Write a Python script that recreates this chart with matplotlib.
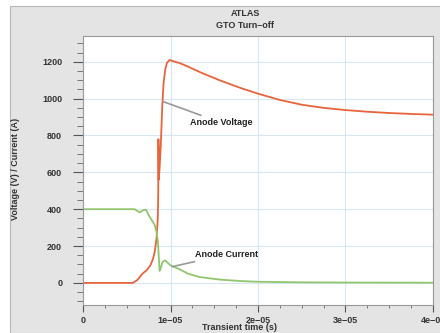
import matplotlib
matplotlib.use('Agg')
import matplotlib.pyplot as plt
from matplotlib.patches import Rectangle
from matplotlib.ticker import MultipleLocator

# time in microseconds
t_v = [0, 5.7, 6.2, 6.8, 7.3, 7.7, 8.0, 8.2, 8.4, 8.55, 8.6, 8.62, 8.66, 8.75,
       8.9, 9.05, 9.2, 9.4, 9.6, 9.9, 10.3, 11, 12, 13.5, 15.6, 18, 20, 22.5,
       25, 27.5, 30, 32.5, 35, 37.5, 40]
anode_voltage = [0, 0, 15, 50, 70, 95, 130, 170, 240, 350, 500, 780, 560, 620,
                 760, 950, 1080, 1160, 1195, 1210, 1203, 1194, 1174, 1141, 1100,
                 1058, 1027, 993, 967, 950, 938, 929, 922, 917, 913]

t_i = [0, 5.9, 6.2, 6.5, 6.9, 7.2, 7.6, 8.0, 8.2, 8.4, 8.55, 8.65, 8.75, 8.85,
       9.1, 9.4, 9.7, 10, 11, 12, 13.3, 15.6, 18, 20, 25, 30, 40]
anode_current = [400, 400, 390, 383, 395, 396, 360, 330, 313, 276, 230, 150, 65,
                 75, 115, 122, 108, 95, 75, 50, 32, 18, 10, 6, 3, 2, 1]

fig = plt.figure(figsize=(4.4, 3.33), dpi=100)
fig.patch.set_facecolor('white')
fig.patches.append(Rectangle((10 / 440, 0), 1, 1 - 6 / 333, transform=fig.transFigure,
                             facecolor='#e4e4e4', edgecolor='#b8b8b8', lw=0.8, zorder=-10))

ax = fig.add_axes([83 / 440, 28 / 333, 350 / 440, 269 / 333])
ax.set_facecolor('white')

ax.plot([t * 1e-6 for t in t_v], anode_voltage, color='#e8643a', lw=1.3)
ax.plot([t * 1e-6 for t in t_i], anode_current, color='#92c66e', lw=1.3)

ax.set_xlim(0, 4e-5)
ax.set_ylim(-120, 1340)
ax.set_xticks([0, 1e-5, 2e-5, 3e-5, 4e-5])
ax.set_xticklabels(['0', '1e\u221205', '2e\u221205', '3e\u221205', '4e\u221205'])
ax.set_yticks([0, 200, 400, 600, 800, 1000, 1200])
ax.xaxis.set_minor_locator(MultipleLocator(2.5e-6))
ax.yaxis.set_minor_locator(MultipleLocator(50))
ax.grid(True, which='major', color='#d6e7f3', lw=0.8)
ax.set_axisbelow(True)

for s in ax.spines.values():
    s.set_color('#999999')
    s.set_linewidth(0.8)
ax.tick_params(which='major', length=5, width=0.8, color='#555555',
               labelsize=6.5, labelcolor='#333333', pad=3)
ax.tick_params(which='minor', length=2.5, width=0.7, color='#777777')
ax.tick_params(axis='y', which='major', length=7, pad=8)
ax.tick_params(axis='y', which='minor', length=4)
for lab in ax.get_xticklabels() + ax.get_yticklabels():
    lab.set_fontweight('bold')
    lab.set_family('Liberation Sans')

ax.annotate('Anode Voltage', xy=(9.1e-6, 985), xytext=(1.22e-5, 870),
            fontsize=6.5, fontweight='bold', family='Liberation Sans', color='#222222',
            va='center', ha='left',
            arrowprops=dict(arrowstyle='-', color='#999999', lw=1.2, shrinkB=0, shrinkA=0))
ax.annotate('Anode Current', xy=(1.02e-5, 88), xytext=(1.28e-5, 155),
            fontsize=6.5, fontweight='bold', family='Liberation Sans', color='#222222',
            va='center', ha='left',
            arrowprops=dict(arrowstyle='-', color='#999999', lw=1.2, shrinkB=0, shrinkA=0))

fig.text(245 / 440, 1 - 13 / 333, 'ATLAS', ha='center', va='center', fontsize=6.5,
         fontweight='bold', family='Liberation Sans', color='#333333')
fig.text(245 / 440, 1 - 26 / 333, 'GTO Turn\u2013off', ha='center', va='center', fontsize=6.5,
         fontweight='bold', family='Liberation Sans', color='#333333')
fig.text(240 / 440, 1 - 327 / 333, 'Transient time (s)', ha='center', va='center', fontsize=6.5,
         fontweight='bold', family='Liberation Sans', color='#333333')
fig.text(16 / 440, 1 - 169 / 333, 'Voltage (V) / Current (A)', ha='center', va='center',
         rotation=90, fontsize=6.5, fontweight='bold', family='Liberation Sans', color='#333333')

fig.savefig('out.png', dpi=100)
